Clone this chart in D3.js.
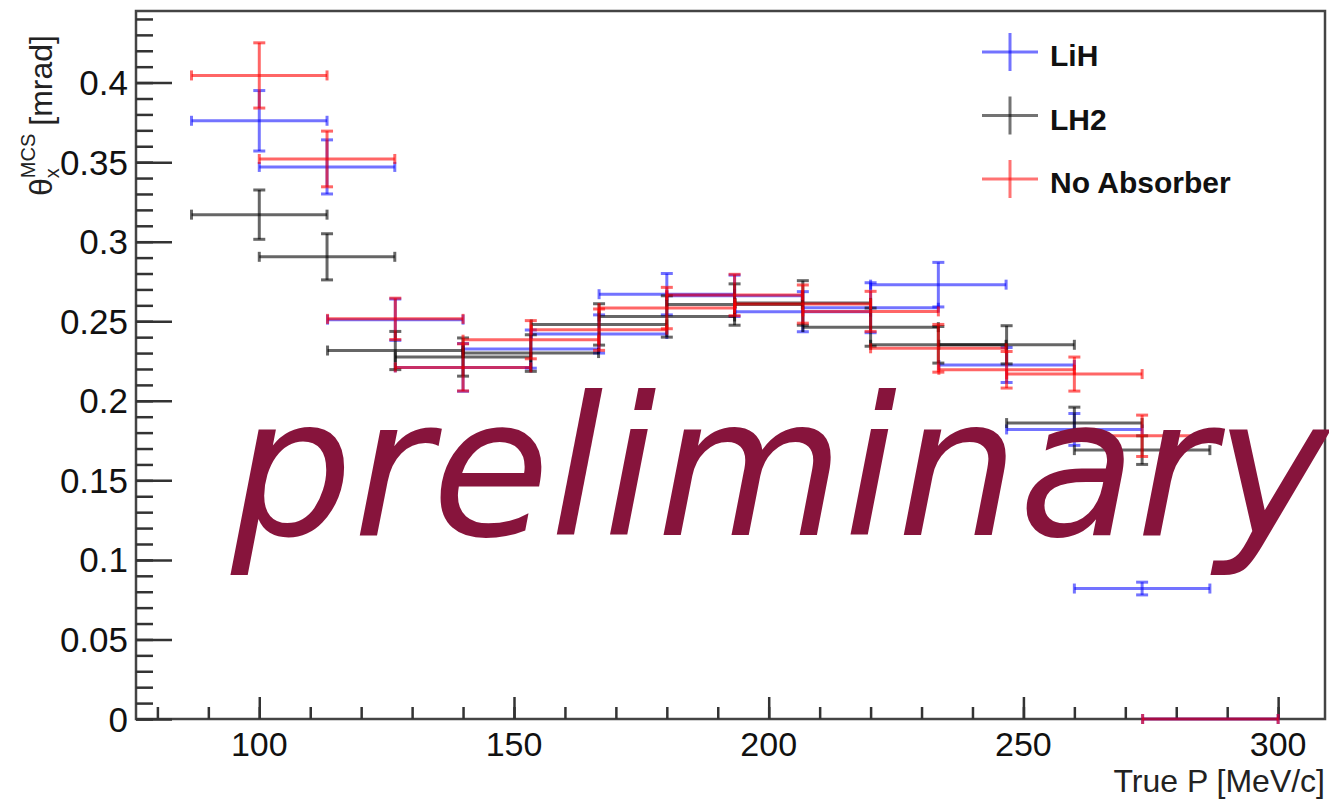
<!DOCTYPE html>
<html>
<head>
<meta charset="utf-8">
<script src="https://cdn.jsdelivr.net/npm/d3@7"></script>
<style>
  body { margin: 0; background: #fff; }
  svg { display: block; }
</style>
</head>
<body>
<div id="chart-container"></div>
<script>
// bin centres (True P, MeV/c) and half bin width used as x error
const momentum = [100, 113.3, 126.7, 140, 153.3, 166.7, 180, 193.3, 206.7, 220, 233.3, 246.7, 260, 273.3, 286.7]
const momentumErr = 13.3

const lihTheta = [0.376, 0.347, 0.251, 0.221, 0.2325, 0.242, 0.267, 0.266, 0.256, 0.2585, 0.273, 0.2225, 0.182, 0.082, 0]
const lihErr = [0.019, 0.017, 0.013, 0.015, 0.012, 0.012, 0.013, 0.013, 0.0126, 0.0157, 0.014, 0.011, 0.010, 0.004, 0]

const lh2Theta = [0.317, 0.2905, 0.2316, 0.2275, 0.230, 0.248, 0.253, 0.2605, 0.2615, 0.2463, 0.2352, 0.2352, 0.186, 0.169]
const lh2Err = [0.0155, 0.0145, 0.012, 0.012, 0.0115, 0.013, 0.013, 0.013, 0.014, 0.012, 0.0115, 0.012, 0.010, 0.009]

const noAbsTheta = [0.4045, 0.352, 0.2515, 0.221, 0.2384, 0.2447, 0.2583, 0.2665, 0.2608, 0.2562, 0.233, 0.2195, 0.2168, 0.178, 0]
const noAbsErr = [0.0205, 0.0175, 0.013, 0.0148, 0.012, 0.013, 0.013, 0.013, 0.012, 0.0126, 0.015, 0.0115, 0.0107, 0.013, 0]

const legendLabels = ["LiH", "LH2", "No Absorber"]
const xMajorTicks = [100, 150, 200, 250, 300]

const W = 1329, H = 799
const margin = {top: 11, right: 4, bottom: 80, left: 136}
const width = W - margin.left - margin.right
const height = H - margin.top - margin.bottom

const svg = d3.select("#chart-container")
    .append("svg")
        .attr("width", W)
        .attr("height", H)
        .style("font-family", "'Liberation Sans', Arial, sans-serif")

const x = d3.scaleLinear()
    .domain([75.8, 309.2])
    .range([margin.left, margin.left + width])
const y = d3.scaleLinear()
    .domain([0, 0.445])
    .range([margin.top + height, margin.top])

const axisColor = "#333"

// frame
svg.append("rect")
    .attr("x", margin.left)
    .attr("y", margin.top)
    .attr("width", width)
    .attr("height", height)
    .attr("fill", "none")
    .attr("stroke", "#444")
    .attr("stroke-width", 2.5)

// y axis: ticks point inward, ROOT style
const yMinor = d3.range(0, 0.4451, 0.01)
svg.append("g")
    .attr("transform", `translate(${margin.left},0)`)
    .call(d3.axisRight(y).tickValues(yMinor).tickSize(17).tickFormat(""))
    .call(g => g.select(".domain").remove())
    .call(g => g.selectAll("line").attr("stroke", axisColor).attr("stroke-width", 2.5))

svg.append("g")
    .attr("transform", `translate(${margin.left},0)`)
    .call(d3.axisRight(y).ticks(9).tickSize(36).tickFormat(""))
    .call(g => g.select(".domain").remove())
    .call(g => g.selectAll("line").attr("stroke", axisColor).attr("stroke-width", 2.5))

svg.append("g")
    .selectAll("text")
    .data(y.ticks(9))
    .join("text")
        .attr("x", margin.left - 8)
        .attr("y", d => y(d) + 12.5)
        .attr("text-anchor", "end")
        .attr("font-size", 35)
        .attr("fill", "#111")
        .text(d => String(+d.toFixed(2)))

// x axis
const xMinor = d3.range(80, 309, 10)
svg.append("g")
    .attr("transform", `translate(0,${margin.top + height})`)
    .call(d3.axisTop(x).tickValues(xMinor).tickSize(12).tickFormat(""))
    .call(g => g.select(".domain").remove())
    .call(g => g.selectAll("line").attr("stroke", axisColor).attr("stroke-width", 2.5))

svg.append("g")
    .attr("transform", `translate(0,${margin.top + height})`)
    .call(d3.axisTop(x).tickValues(xMajorTicks).tickSize(22).tickFormat(""))
    .call(g => g.select(".domain").remove())
    .call(g => g.selectAll("line").attr("stroke", axisColor).attr("stroke-width", 2.5))

svg.append("g")
    .selectAll("text")
    .data(xMajorTicks)
    .join("text")
        .attr("x", d => x(d))
        .attr("y", margin.top + height + 37)
        .attr("text-anchor", "middle")
        .attr("font-size", 34)
        .attr("fill", "#111")
        .text(d => d)

svg.append("text")
    .attr("x", margin.left + width)
    .attr("y", 792)
    .attr("text-anchor", "end")
    .attr("font-size", 32)
    .attr("fill", "#222")
    .text("True P [MeV/c]")

// y title: theta_x^MCS [mrad], rotated
const yTitle = svg.append("text")
    .attr("transform", "translate(52,196) rotate(-90)")
    .attr("font-size", 32)
    .attr("fill", "#222")
yTitle.append("tspan").text("θ")
yTitle.append("tspan").attr("font-size", 20).attr("dy", 7).text("x")
yTitle.append("tspan").attr("font-size", 20).attr("dx", -10).attr("dy", -24).text("MCS")
yTitle.append("tspan").attr("dy", 17).attr("dx", 8).text("[mrad]")

// error-bar series
const capW = 6, capH = 5

function drawSeries(vals, errs, color, alpha) {
    const pts = vals.map((v, i) => ({p: momentum[i], v: v, e: errs[i]}))
    const g = svg.append("g")
        .attr("stroke", color)
        .attr("stroke-opacity", alpha)
        .attr("stroke-width", 3)
        .attr("fill", "none")

    // horizontal bars
    g.selectAll(".hbar").data(pts).join("line")
        .attr("x1", d => x(d.p - momentumErr))
        .attr("x2", d => x(d.p + momentumErr))
        .attr("y1", d => y(d.v))
        .attr("y2", d => y(d.v))
    // end caps on horizontal bars
    g.selectAll(".hcapl").data(pts).join("line")
        .attr("x1", d => x(d.p - momentumErr))
        .attr("x2", d => x(d.p - momentumErr))
        .attr("y1", d => y(d.v) - capH)
        .attr("y2", d => y(d.v) + capH)
    g.selectAll(".hcapr").data(pts).join("line")
        .attr("x1", d => x(d.p + momentumErr))
        .attr("x2", d => x(d.p + momentumErr))
        .attr("y1", d => y(d.v) - capH)
        .attr("y2", d => y(d.v) + capH)

    const withErr = pts.filter(d => d.e > 0)
    g.selectAll(".vbar").data(withErr).join("line")
        .attr("x1", d => x(d.p))
        .attr("x2", d => x(d.p))
        .attr("y1", d => y(d.v - d.e))
        .attr("y2", d => y(d.v + d.e))
    g.selectAll(".vcapt").data(withErr).join("line")
        .attr("x1", d => x(d.p) - capW)
        .attr("x2", d => x(d.p) + capW)
        .attr("y1", d => y(d.v + d.e))
        .attr("y2", d => y(d.v + d.e))
    g.selectAll(".vcapb").data(withErr).join("line")
        .attr("x1", d => x(d.p) - capW)
        .attr("x2", d => x(d.p) + capW)
        .attr("y1", d => y(d.v - d.e))
        .attr("y2", d => y(d.v - d.e))
}

const colors = ["#0000ff", "#000000", "#ff0000"]
drawSeries(lihTheta, lihErr, colors[0], 0.55)
drawSeries(lh2Theta, lh2Err, colors[1], 0.6)
drawSeries(noAbsTheta, noAbsErr, colors[2], 0.6)

// legend
const legend = svg.selectAll(".legendEntry")
    .data(legendLabels)
    .join("g")
        .attr("class", "legendEntry")
        .attr("transform", (d, i) => `translate(1010, ${52 + i * 63.5})`)

legend.append("line")
    .attr("x1", -28).attr("x2", 28)
    .attr("y1", 0).attr("y2", 0)
    .attr("stroke", (d, i) => colors[i])
    .attr("stroke-opacity", 0.55)
    .attr("stroke-width", 3)
legend.append("line")
    .attr("x1", 0).attr("x2", 0)
    .attr("y1", -19).attr("y2", 19)
    .attr("stroke", (d, i) => colors[i])
    .attr("stroke-opacity", 0.55)
    .attr("stroke-width", 3)
legend.append("text")
    .attr("x", 40)
    .attr("y", 14)
    .attr("font-size", 30)
    .attr("font-weight", "bold")
    .attr("fill", "#111")
    .text(d => d)

// watermark on top of everything
svg.append("text")
    .attr("x", 231)
    .attr("y", 535)
    .attr("font-family", "'DejaVu Sans', sans-serif")
    .attr("font-style", "oblique")
    .attr("font-size", 192)
    .attr("fill", "#87143c")
    .text("preliminary")
</script>
</body>
</html>
